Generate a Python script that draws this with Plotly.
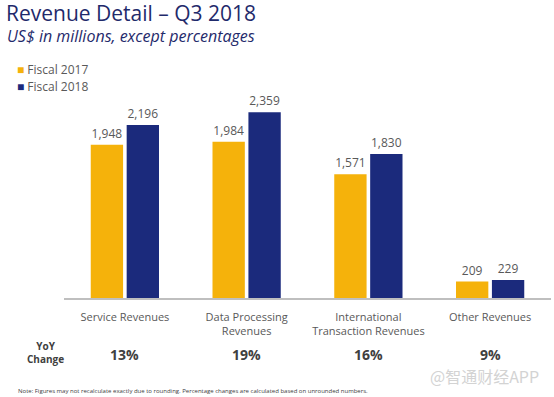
import plotly.graph_objects as go

categories = ["Service Revenues", "Data Processing<br>Revenues",
              "International<br>Transaction Revenues", "Other Revenues"]
fiscal_2017 = [1948, 1984, 1571, 209]
fiscal_2018 = [2196, 2359, 1830, 229]
yoy_change = ["13%", "19%", "16%", "9%"]
series_names = ["Fiscal 2017", "Fiscal 2018"]

FONT = "Open Sans"
GRAY = "#595959"
NAVY = "#1F2A6B"
C17 = "#F5B20B"
C18 = "#1B2A7C"
W, H = 554, 397
ML, MR, MT, MB = 64, 3, 100, 99
W_PLOT = W - ML - MR
H_PLOT = H - MT - MB

fig = go.Figure()
for name, vals, col in zip(series_names, [fiscal_2017, fiscal_2018], [C17, C18]):
    fig.add_trace(go.Bar(
        name=name, x=categories, y=vals,
        marker=dict(color=col, line=dict(width=0)),
        text=[f"{v:,}" for v in vals], textposition="outside",
        textfont=dict(size=12, color=GRAY, family=FONT), cliponaxis=False,
        showlegend=False,
    ))


def cx(xp):
    return xp / W


def cy(yp):
    return 1 - yp / H


annotations = [
    dict(text="Revenue Detail – Q3 2018", x=cx(4), y=cy(13), xanchor="left", yanchor="middle",
         font=dict(size=21, color=NAVY, family=FONT)),
    dict(text="<i>US$ in millions, except percentages</i>", x=cx(5), y=cy(36),
         xanchor="left", yanchor="middle", font=dict(size=16, color=NAVY, family=FONT)),
    dict(text="<b>YoY<br>Change</b>", x=cx(45), y=cy(352),
         xanchor="center", yanchor="middle", font=dict(size=10, color="#404040", family=FONT)),
    dict(text="Note: Figures may not recalculate exactly due to rounding. Percentage changes are calculated based on unrounded numbers.",
         x=cx(16), y=cy(391), xanchor="left", yanchor="middle",
         font=dict(size=6, color="#404040", family=FONT)),
    dict(text="@智通财经APP", x=cx(541), y=cy(376), xanchor="right", yanchor="middle",
         font=dict(size=16, color="#D3D3D3", family="Noto Sans CJK SC")),
]
for i, (name, col) in enumerate(zip(series_names, [C17, C18])):
    annotations.append(dict(
        text=f"<span style='color:{col}'>■</span> {name}", x=cx(15), y=cy(70 + 17 * i),
        xanchor="left", yanchor="middle", font=dict(size=12, color=GRAY, family=FONT)))

for a in annotations:
    a["xref"] = "paper"
    a["yref"] = "paper"
    a["showarrow"] = False
    a["x"] = (a["x"] * W - ML) / W_PLOT
    a["y"] = ((a["y"] * H) - MB) / H_PLOT

for c, v in zip(categories, yoy_change):
    annotations.append(dict(text=f"<b>{v}</b>", x=c, xref="x",
                            y=((cy(354) * H) - MB) / H_PLOT, yref="paper",
                            yanchor="middle", showarrow=False,
                            font=dict(size=14, color="#404040", family=FONT)))

fig.update_layout(
    width=W, height=H,
    margin=dict(l=ML, r=MR, t=MT, b=MB, autoexpand=False),
    paper_bgcolor="white", plot_bgcolor="white",
    barmode="group", bargap=0.41, bargroupgap=0.1,
    showlegend=False,
    xaxis=dict(showline=True, linecolor="#BFBFBF", linewidth=1.5, ticks="",
               automargin=False, ticklabelstandoff=8,
               tickfont=dict(size=11, color=GRAY, family=FONT)),
    yaxis=dict(range=[0, 2515], visible=False, showgrid=False, automargin=False),
    annotations=annotations,
)

fig.write_html("out.html", config={"displayModeBar": False},
               post_script="document.body.style.margin='0';document.body.style.padding='0';")
